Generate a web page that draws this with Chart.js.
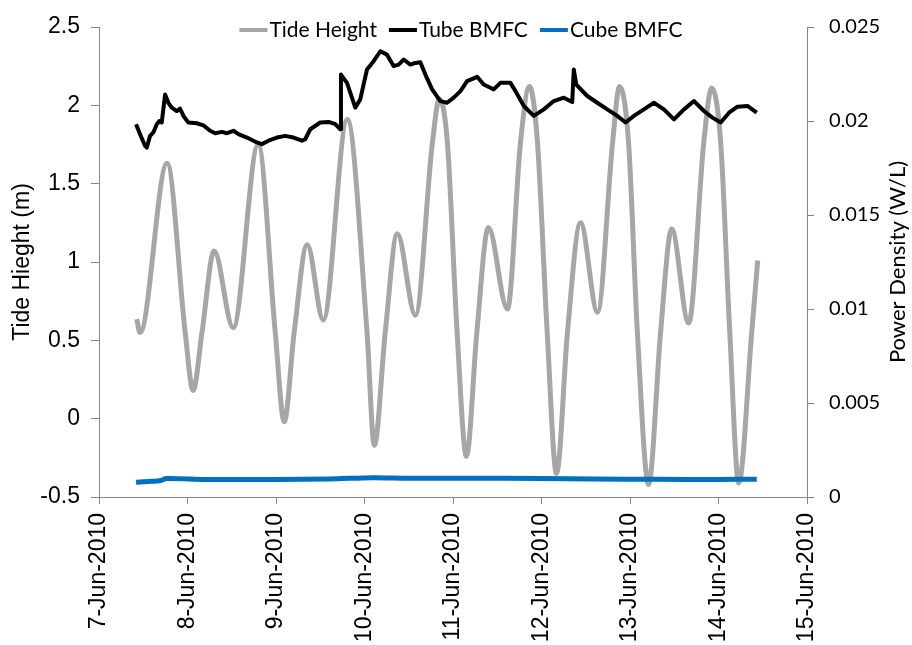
<!DOCTYPE html>
<html>
<head>
<meta charset="utf-8">
<title>Tide Height and BMFC Power Density</title>
<script src="https://cdn.jsdelivr.net/npm/chart.js@4.4.0/dist/chart.umd.min.js"></script>
<style>
    body { margin: 0; background: #ffffff; }
    #tideChart { display: block; }
</style>
</head>
<body>
<canvas id="tideChart" width="912" height="645"></canvas>
<script>
// x values are days counted from 7-Jun-2010 00:00
const xTickLabels = ['7-Jun-2010', '8-Jun-2010', '9-Jun-2010', '10-Jun-2010', '11-Jun-2010',
    '12-Jun-2010', '13-Jun-2010', '14-Jun-2010', '15-Jun-2010'];

// Tide Height (m), left axis
const tideDays = [0.426, 0.464, 0.769, 0.973, 1.063, 1.165, 1.301, 1.516, 1.799, 1.991,
    2.093, 2.206, 2.353, 2.534, 2.805, 3.028, 3.111, 3.235, 3.371, 3.575,
    3.767, 3.846, 3.937, 4.046, 4.152, 4.270, 4.400, 4.615, 4.762, 4.864,
    4.955, 5.064, 5.170, 5.294, 5.441, 5.633, 5.803, 5.882, 5.984, 6.083,
    6.210, 6.346, 6.471, 6.663, 6.833, 6.923, 7.025, 7.127, 7.229, 7.376, 7.443];
const tideHeight = [0.635, 0.55, 1.63, 0.555, 0.18, 0.555, 1.07, 0.58, 1.75, 0.555,
    -0.02, 0.555, 1.11, 0.63, 1.91, 0.555, -0.17, 0.555, 1.18, 0.66,
    1.76, 2.04, 1.76, 0.555, -0.24, 0.555, 1.22, 0.70, 1.76, 2.12,
    1.76, 0.555, -0.35, 0.555, 1.25, 0.68, 1.76, 2.12, 1.76, 0.555,
    -0.42, 0.555, 1.21, 0.61, 1.76, 2.11, 1.76, 0.555, -0.41, 0.555, 1.01];

// Tube BMFC power density (W/L), right axis
const tubeDays = [0.419, 0.464, 0.520, 0.540, 0.577, 0.614, 0.653, 0.682, 0.709, 0.747,
    0.784, 0.822, 0.879, 0.916, 0.954, 1.010, 1.105, 1.180, 1.256, 1.312,
    1.388, 1.445, 1.519, 1.576, 1.671, 1.784, 1.840, 1.915, 2.010, 2.104,
    2.198, 2.293, 2.330, 2.387, 2.500, 2.594, 2.670, 2.726, 2.734, 2.802,
    2.896, 2.952, 3.028, 3.103, 3.179, 3.254, 3.329, 3.386, 3.442, 3.518,
    3.575, 3.631, 3.688, 3.764, 3.857, 3.933, 4.008, 4.084, 4.159, 4.273,
    4.347, 4.423, 4.460, 4.536, 4.649, 4.706, 4.800, 4.913, 5.026, 5.139,
    5.252, 5.347, 5.365, 5.393, 5.517, 5.630, 5.743, 5.856, 5.950, 6.044,
    6.157, 6.270, 6.383, 6.497, 6.610, 6.723, 6.836, 6.931, 7.025, 7.119,
    7.214, 7.327, 7.432];
const tubePower = [0.01983, 0.01930, 0.01868, 0.01859, 0.01921, 0.01939, 0.01983, 0.02000, 0.01992, 0.02141,
    0.02097, 0.02071, 0.02053, 0.02066, 0.02027, 0.01992, 0.01988, 0.01977, 0.01948, 0.01935,
    0.01942, 0.01935, 0.01948, 0.01930, 0.01912, 0.01886, 0.01877, 0.01895, 0.01912, 0.01921,
    0.01912, 0.01895, 0.01903, 0.01956, 0.01992, 0.01995, 0.01983, 0.01956, 0.02247, 0.02203,
    0.02071, 0.02115, 0.02274, 0.02318, 0.02371, 0.02353, 0.02292, 0.02300, 0.02327, 0.02300,
    0.02309, 0.02313, 0.02247, 0.02168, 0.02106, 0.02097, 0.02124, 0.02159, 0.02212, 0.02235,
    0.02194, 0.02177, 0.02168, 0.02203, 0.02203, 0.02159, 0.02080, 0.02027, 0.02062, 0.02106,
    0.02124, 0.02101, 0.02274, 0.02194, 0.02133, 0.02097, 0.02062, 0.02027, 0.01992, 0.02027,
    0.02062, 0.02097, 0.02062, 0.02009, 0.02062, 0.02106, 0.02053, 0.02018, 0.01992, 0.02044,
    0.02076, 0.02080, 0.02044];

// Cube BMFC power density (W/L), right axis
const cubeDays = [0.419, 0.550, 0.700, 0.760, 1.200, 2.000, 2.600, 3.100, 3.500, 4.200,
    5.000, 5.600, 6.300, 7.000, 7.432];
const cubePower = [0.00078, 0.00082, 0.00088, 0.00098, 0.00093, 0.00093, 0.00096, 0.00103, 0.00100, 0.00100,
    0.00099, 0.00096, 0.00094, 0.00093, 0.00095];

const leftTicks = [-0.5, 0, 0.5, 1, 1.5, 2, 2.5];
const rightTicks = [0, 0.005, 0.01, 0.015, 0.02, 0.025];

function toPoints(xs, ys) {
    const points = [];
    for (let i = 0; i < xs.length; i++) {
        points.push({ x: xs[i], y: ys[i] });
    }
    return points;
}

const AXIS_GREY = '#868686';
const ARIAL = "'Liberation Sans', Arial, sans-serif";
const CALIBRI = "Lato, 'Open Sans', sans-serif";

// legend drawn inside the plot, line sample touching the label like in Excel
const topLegend = {
    id: 'topLegend',
    afterDraw(chart) {
        const ctx = chart.ctx;
        const area = chart.chartArea;
        ctx.save();
        ctx.font = '21px ' + CALIBRI;
        ctx.textBaseline = 'middle';
        const sample = 28;
        const gap = 12;
        let total = 0;
        chart.data.datasets.forEach((ds) => {
            total += sample + 2 + ctx.measureText(ds.label).width + gap;
        });
        total -= gap;
        let x = (area.left + area.right) / 2 + 8 - total / 2;
        const y = area.top + 3;
        chart.data.datasets.forEach((ds) => {
            ctx.strokeStyle = ds.borderColor;
            ctx.lineWidth = 4;
            ctx.beginPath();
            ctx.moveTo(x, y);
            ctx.lineTo(x + sample, y);
            ctx.stroke();
            ctx.fillStyle = '#000000';
            ctx.fillText(ds.label, x + sample + 2, y);
            x += sample + 2 + ctx.measureText(ds.label).width + gap;
        });
        ctx.restore();
    }
};

// right axis title reads bottom-to-top in the original
const rightTitle = {
    id: 'rightTitle',
    afterDraw(chart) {
        const ctx = chart.ctx;
        const area = chart.chartArea;
        ctx.save();
        ctx.translate(chart.width - 14, (area.top + area.bottom) / 2);
        ctx.rotate(-Math.PI / 2);
        ctx.font = '22px ' + CALIBRI;
        ctx.fillStyle = '#000000';
        ctx.textAlign = 'center';
        ctx.textBaseline = 'middle';
        ctx.fillText('Power Density (W/L)', 0, 0);
        ctx.restore();
    }
};

Chart.defaults.color = '#000000';

const ctx = document.getElementById('tideChart').getContext('2d');
const chart = new Chart(ctx, {
    type: 'line',
    data: {
        datasets: [
            {
                label: 'Tide Height',
                data: toPoints(tideDays, tideHeight),
                yAxisID: 'y',
                borderColor: '#A6A6A6',
                borderWidth: 5,
                pointRadius: 0,
                cubicInterpolationMode: 'monotone',
                order: 3
            },
            {
                label: 'Tube BMFC',
                data: toPoints(tubeDays, tubePower),
                yAxisID: 'y1',
                borderColor: '#000000',
                borderWidth: 4,
                pointRadius: 0,
                tension: 0,
                borderJoinStyle: 'round',
                order: 2
            },
            {
                label: 'Cube BMFC',
                data: toPoints(cubeDays, cubePower),
                yAxisID: 'y1',
                borderColor: '#0070C0',
                borderWidth: 5,
                pointRadius: 0,
                tension: 0.3,
                order: 1
            }
        ]
    },
    options: {
        responsive: false,
        animation: false,
        devicePixelRatio: 1,
        layout: { padding: { top: 24, left: 0, right: 0, bottom: 0 } },
        plugins: {
            legend: { display: false },
            tooltip: { enabled: false }
        },
        scales: {
            x: {
                type: 'linear',
                min: 0,
                max: 8,
                afterFit: (scale) => { scale.height = 148; },
                afterBuildTicks: (scale) => {
                    scale.ticks = xTickLabels.map((lbl, i) => ({ value: i }));
                },
                ticks: {
                    autoSkip: false,
                    minRotation: 90,
                    maxRotation: 90,
                    padding: 9,
                    font: { family: ARIAL, size: 23 },
                    callback: (value, index) => xTickLabels[index]
                },
                grid: { drawOnChartArea: false, drawTicks: true, tickLength: 7, color: AXIS_GREY },
                border: { display: true, color: AXIS_GREY, width: 1 }
            },
            y: {
                position: 'left',
                min: -0.5,
                max: 2.5,
                afterFit: (scale) => { scale.width = 99; },
                afterBuildTicks: (scale) => {
                    scale.ticks = leftTicks.map((v) => ({ value: v }));
                },
                ticks: {
                    padding: 11,
                    font: { family: ARIAL, size: 23 },
                    callback: (value) => String(value)
                },
                title: {
                    display: true,
                    text: 'Tide Hieght (m)',
                    padding: { top: 9, bottom: 0 },
                    font: { family: ARIAL, size: 23 }
                },
                grid: { drawOnChartArea: false, drawTicks: true, tickLength: 8, color: AXIS_GREY },
                border: { display: true, color: AXIS_GREY, width: 1 }
            },
            y1: {
                position: 'right',
                min: 0,
                max: 0.025,
                afterFit: (scale) => { scale.width = 105; },
                afterBuildTicks: (scale) => {
                    scale.ticks = rightTicks.map((v) => ({ value: v }));
                },
                ticks: {
                    padding: 15,
                    font: { family: CALIBRI, size: 20 },
                    callback: (value) => String(value)
                },
                grid: { drawOnChartArea: false, drawTicks: true, tickLength: 7, color: AXIS_GREY },
                border: { display: true, color: AXIS_GREY, width: 1 }
            }
        }
    },
    plugins: [topLegend, rightTitle]
});
</script>
</body>
</html>
